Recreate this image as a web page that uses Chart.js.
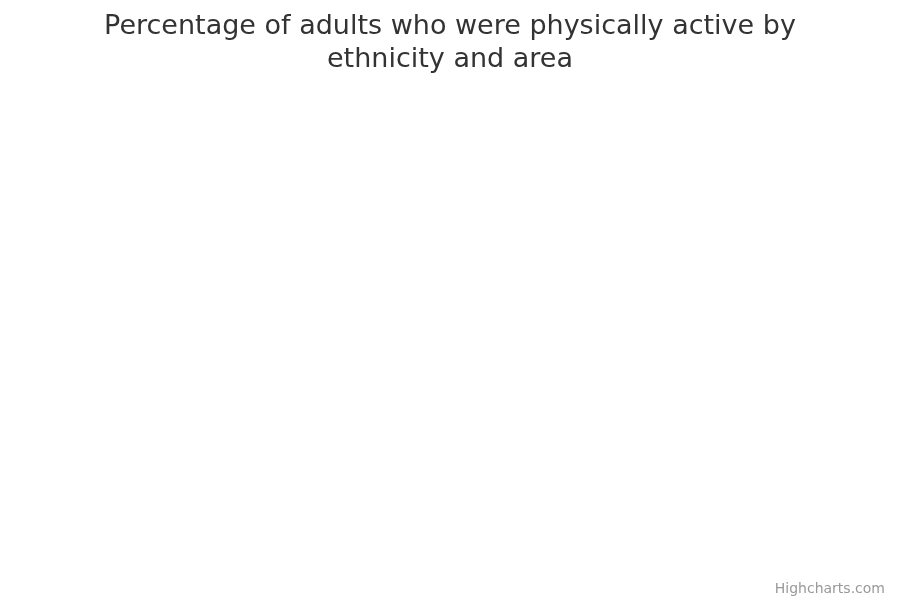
<!DOCTYPE html>
<html>
<head>
<meta charset="utf-8">
<script src="https://cdn.jsdelivr.net/npm/chart.js@4"></script>
<style>
  html, body { margin: 0; padding: 0; background: #fff; }
  #wrap { position: relative; width: 900px; height: 600px; }
  #credit {
    position: absolute; right: 15px; bottom: 4px;
    font-family: "DejaVu Sans", sans-serif; font-size: 14px; color: #999999;
  }
</style>
</head>
<body>
<div id="wrap">
  <canvas id="chart" width="900" height="600"></canvas>
  <div id="credit">Highcharts.com</div>
</div>
<script>
// the source chart has no data drawn, only its title
const categories = [];
const values = [];
const titleLines = ["Percentage of adults who were physically active by", "ethnicity and area"];

const ctx = document.getElementById("chart");

new Chart(ctx, {
  type: "bar",
  data: {
    labels: categories,
    datasets: [
      {
        label: "Physically active (%)",
        data: values,
        backgroundColor: "#7cb5ec"
      }
    ]
  },
  options: {
    responsive: false,
    animation: false,
    plugins: {
      legend: { display: false },
      tooltip: { enabled: false },
      title: {
        display: true,
        text: titleLines,
        color: "#333333",
        font: { family: "DejaVu Sans", size: 27, weight: "normal", lineHeight: 1.2 },
        padding: { top: 11, bottom: 10 }
      }
    },
    scales: {
      x: { display: false },
      y: { display: false }
    }
  }
});
</script>
</body>
</html>
